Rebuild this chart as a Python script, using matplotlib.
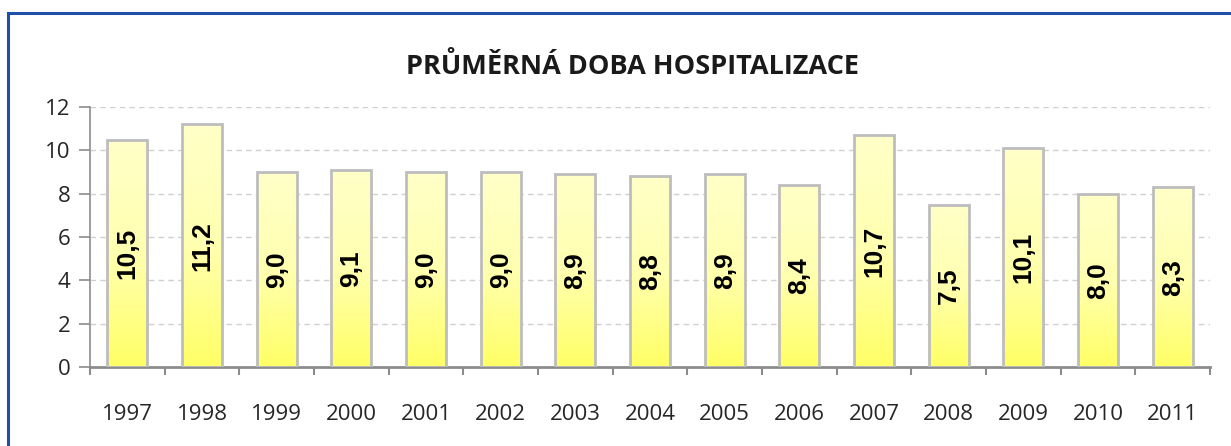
import numpy as np
import matplotlib.pyplot as plt
from matplotlib.colors import LinearSegmentedColormap
from matplotlib.patches import Rectangle

years = ["1997", "1998", "1999", "2000", "2001", "2002", "2003", "2004",
         "2005", "2006", "2007", "2008", "2009", "2010", "2011"]
values = [10.5, 11.2, 9.0, 9.1, 9.0, 9.0, 8.9, 8.8, 8.9, 8.4, 10.7, 7.5, 10.1, 8.0, 8.3]
labels = ["10,5", "11,2", "9,0", "9,1", "9,0", "9,0", "8,9", "8,8",
          "8,9", "8,4", "10,7", "7,5", "10,1", "8,0", "8,3"]

fig = plt.figure(figsize=(12.31, 4.46), dpi=100)
fig.patch.set_facecolor("white")

# blue frame (only top and left visible in the original)
fig.add_artist(plt.Line2D([8 / 1231, 8 / 1231], [0, 1 - 13 / 446], color="#1F4FA8", lw=2.2))
fig.add_artist(plt.Line2D([8 / 1231, 1], [1 - 13 / 446, 1 - 13 / 446], color="#1F4FA8", lw=2.2))

ax = fig.add_axes([90 / 1231, 1 - 367 / 446, 1120 / 1231, 260 / 446])
x = np.arange(len(years))
bars = ax.bar(x, values, width=0.54, color="none", edgecolor="#BDBDBD", linewidth=2, zorder=3)

cmap = LinearSegmentedColormap.from_list("yel", ["#FFFF66", "#FFFFB0", "#FFFFC8"])
grad = np.linspace(0, 1, 256).reshape(-1, 1)
for b in bars:
    x0, w, h = b.get_x(), b.get_width(), b.get_height()
    im = ax.imshow(grad, extent=[x0, x0 + w, 0, h], origin="lower", cmap=cmap,
                   aspect="auto", zorder=2)
    clip = Rectangle((x0, 0), w, h, transform=ax.transData)
    im.set_clip_path(clip)

for xi, v, lab in zip(x, values, labels):
    ax.text(xi, v / 2, lab, rotation=90, ha="center", va="center",
            fontsize=19, fontweight="bold", family="Liberation Sans", color="black", zorder=4)

ax.set_xlim(-0.5, len(years) - 0.5)
ax.set_ylim(0, 12)
ax.set_yticks(range(0, 13, 2))
ax.set_xticks(x)
ax.set_xticklabels(years)
ax.set_xticks(np.arange(-0.5, len(years), 1), minor=True)
ax.tick_params(axis="x", which="major", length=0, pad=27, labelsize=16, labelcolor="#262626")
ax.tick_params(axis="x", which="minor", length=6, width=1.5, color="#8C8C8C", direction="out")
ax.tick_params(axis="y", length=8, width=1.2, color="#8C8C8C", labelsize=16,
               labelcolor="#262626", pad=6)
for t in ax.get_xticklabels() + ax.get_yticklabels():
    t.set_family("Open Sans")

ax.grid(axis="y", linestyle=(0, (4, 3)), color="#D0D0D0", linewidth=1, zorder=0)
ax.set_axisbelow(True)
for s in ["top", "right"]:
    ax.spines[s].set_visible(False)
ax.spines["left"].set_color("#8C8C8C")
ax.spines["left"].set_linewidth(1.2)
ax.spines["bottom"].set_color("#8C8C8C")
ax.spines["bottom"].set_linewidth(2)

fig.text(632 / 1231, 1 - 66 / 446, "PRŮMĚRNÁ DOBA HOSPITALIZACE", ha="center", va="center",
         fontsize=19.5, fontweight="bold", family="Open Sans", color="#1A1A1A")

fig.savefig("out.png", dpi=100)
